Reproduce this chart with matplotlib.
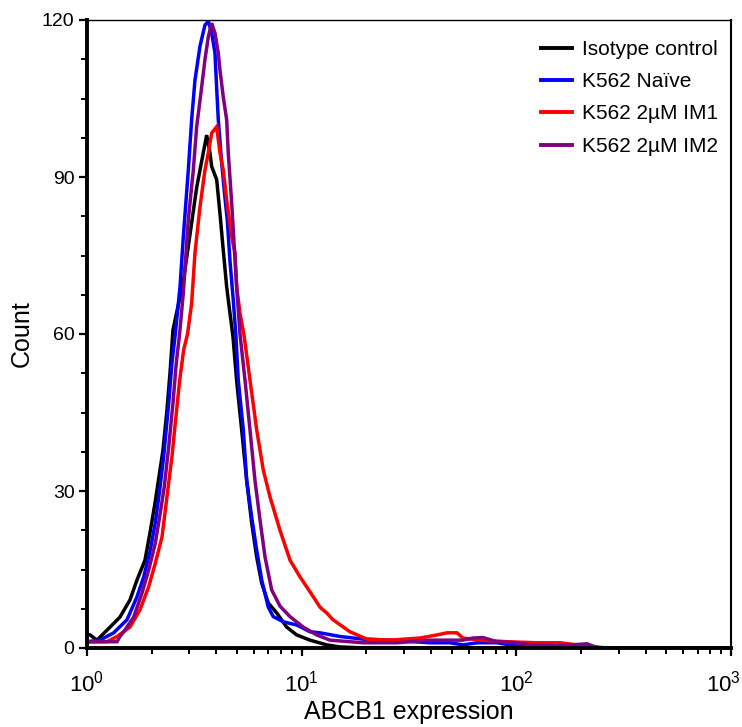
import matplotlib
matplotlib.use("Agg")
import matplotlib.pyplot as plt
import matplotlib.transforms as mtransforms
from matplotlib.ticker import MultipleLocator, LogLocator, NullFormatter

plt.rcParams['font.family'] = ['Liberation Sans', 'DejaVu Sans']
plt.rcParams['mathtext.fontset'] = 'custom'
plt.rcParams['mathtext.rm'] = 'Liberation Sans'
plt.rcParams['mathtext.it'] = 'Liberation Sans:italic'
plt.rcParams['mathtext.bf'] = 'Liberation Sans:bold'

# ---- data ----
iso_x = [1.00, 1.033, 1.113, 1.239, 1.424, 1.586, 1.710, 1.863, 1.965, 2.074, 2.164, 2.259,
         2.358, 2.435, 2.515, 2.809, 3.018, 3.243, 3.421, 3.609, 3.740, 3.809, 4.018, 4.164,
         4.313, 4.474, 4.634, 4.786, 4.980, 5.254, 5.545, 5.850, 6.172, 6.513, 6.989, 7.650,
         8.516, 9.478, 10.93, 13.08, 15.08, 20.0, 1000.0]
iso_y = [2.5, 2.5, 1.5, 3.4, 5.9, 9.2, 13.0, 16.8, 22.0, 27.7, 32.7, 37.8,
         45.5, 52.5, 60.8, 70.0, 79.0, 88.0, 93.0, 98.0, 94.6, 92.0, 89.5, 83.0,
         76.0, 69.0, 64.0, 59.5, 51.0, 41.7, 32.0, 23.9, 17.4, 12.4, 8.6, 6.7,
         4.0, 2.5, 1.5, 0.6, 0.2, 0.0, 0.0]

naive_x = [1.00, 1.150, 1.331, 1.536, 1.710, 1.837, 1.971, 2.080, 2.181, 2.276, 2.402, 2.488,
           2.578, 2.712, 2.809, 2.964, 3.073, 3.184, 3.360, 3.543, 3.673, 3.809, 3.946, 4.018,
           4.088, 4.240, 4.393, 4.503, 4.634, 4.801, 4.943, 5.066, 5.346, 5.545, 5.850, 6.172,
           6.513, 6.989, 7.374, 8.211, 9.478, 10.93, 12.17, 15.08, 19.30, 25.78, 39.60, 49.07,
           56.40, 65.55, 81.21, 103.9, 130.0, 1000.0]
naive_y = [1.2, 1.5, 2.9, 5.4, 9.8, 13.6, 18.7, 23.9, 30.2, 36.6, 46.8, 54.5,
           60.0, 69.0, 78.5, 91.3, 101.0, 108.5, 115.0, 119.0, 119.8, 117.5, 113.7, 107.0,
           101.0, 92.7, 86.0, 81.8, 74.0, 66.5, 59.5, 51.2, 41.7, 32.0, 25.0, 18.7,
           13.0, 7.8, 6.0, 5.0, 4.4, 3.1, 2.9, 2.2, 1.7, 1.5, 1.0, 1.0,
           0.6, 1.0, 1.0, 0.3, 0.0, 0.0]

im1_x = [1.00, 1.239, 1.380, 1.586, 1.765, 1.938, 2.080, 2.235, 2.358, 2.488, 2.578, 2.703,
         2.821, 2.940, 3.073, 3.184, 3.360, 3.543, 3.673, 3.809, 4.018, 4.164, 4.313, 4.474,
         4.721, 4.890, 4.980, 5.160, 5.400, 5.744, 6.172, 6.625, 7.118, 7.925, 8.822, 9.820,
         10.55, 11.32, 12.17, 13.08, 13.99, 16.79, 20.15, 25.78, 35.56, 42.68, 47.52, 52.89,
         56.40, 67.70, 90.41, 124.7, 159.7, 191.6, 227.4, 260.0, 1000.0]
im1_y = [1.2, 1.2, 2.2, 4.0, 7.3, 11.7, 16.2, 21.2, 28.9, 36.6, 43.0, 51.2,
         57.0, 60.0, 65.9, 75.5, 84.3, 91.3, 94.6, 98.4, 99.6, 94.6, 91.3, 85.6,
         78.5, 75.5, 69.0, 64.0, 59.5, 51.2, 41.7, 34.0, 28.9, 22.5, 16.8, 13.6,
         11.7, 9.8, 7.8, 6.7, 5.4, 3.1, 1.7, 1.5, 1.9, 2.5, 2.9, 2.9,
         1.9, 1.5, 1.2, 1.0, 1.0, 0.6, 0.3, 0.0, 0.0]

im2_x = [1.00, 1.380, 1.424, 1.482, 1.650, 1.804, 1.938, 2.080, 2.194, 2.291, 2.402, 2.515,
         2.606, 2.700, 2.809, 2.964, 3.127, 3.243, 3.421, 3.543, 3.673, 3.809, 3.946, 4.088,
         4.164, 4.313, 4.474, 4.551, 4.721, 4.853, 4.980, 5.160, 5.445, 5.744, 6.061, 6.395,
         6.749, 7.250, 7.925, 8.822, 10.17, 11.75, 13.55, 19.30, 27.79, 39.60, 56.40, 62.80,
         69.91, 81.21, 100.6, 115.7, 154.6, 213.3, 240.0, 1000.0]
im2_y = [1.2, 1.2, 2.2, 3.1, 5.9, 10.5, 14.9, 20.0, 25.8, 30.8, 38.4, 46.8,
         54.5, 60.0, 67.8, 81.8, 91.3, 99.6, 107.2, 112.4, 116.8, 119.4, 117.5, 113.7,
         110.4, 105.3, 100.9, 94.6, 85.0, 76.6, 69.0, 60.0, 51.2, 41.7, 32.0, 24.5,
         17.4, 11.1, 8.0, 6.0, 4.0, 2.5, 1.5, 1.0, 1.0, 1.5, 1.5, 1.9,
         2.0, 1.2, 1.0, 0.6, 0.4, 0.8, 0.0, 0.0]

series_labels = ["Isotype control", "K562 Naïve", "K562 2µM IM1", "K562 2µM IM2"]
series_colors = ["#000000", "#0000ff", "#ff0000", "#800080"]

x_ticks = [1, 10, 100, 1000]
x_ticklabels = [r"$\mathregular{10^{0}}$", r"$\mathregular{10^{1}}$",
                r"$\mathregular{10^{2}}$", r"$\mathregular{10^{3}}$"]
y_ticks = [0, 30, 60, 90, 120]

x_label = "ABCB1 expression"
y_label = "Count"

# ---- figure ----
fig = plt.figure(figsize=(7.42, 7.27), dpi=100)
ax = fig.add_axes([87/742, 1 - 648/727, (731 - 87)/742, (648 - 20)/727])

xs = [iso_x, naive_x, im1_x, im2_x]
ys = [iso_y, naive_y, im1_y, im2_y]
for x, y, lab, col in zip(xs, ys, series_labels, series_colors):
    ax.plot(x, y, color=col, lw=2.5, label=lab, solid_joinstyle='miter')

ax.set_xscale('log')
ax.set_xlim(1, 1000)
ax.set_ylim(0, 120)
ax.set_yticks(y_ticks)
ax.yaxis.set_minor_locator(MultipleLocator(7.5))
ax.set_xticks(x_ticks)
ax.set_xticklabels(x_ticklabels)
ax.xaxis.set_minor_locator(LogLocator(base=10, subs=range(2, 10)))
ax.xaxis.set_minor_formatter(NullFormatter())

for s in ['left', 'bottom']:
    ax.spines[s].set_linewidth(2.8)
ax.spines['top'].set_linewidth(1.0)
ax.spines['right'].set_linewidth(1.5)

ax.tick_params(which='major', direction='out', length=6, width=1.6, labelsize=14, pad=3)
ax.tick_params(axis='x', which='major', pad=10, labelsize=16)
ax.tick_params(which='minor', direction='out', length=4, width=1.4)
ax.tick_params(top=False, right=False, which='both')

ax.set_xlabel(x_label, fontsize=18, labelpad=3)
ax.set_ylabel(y_label, fontsize=18, labelpad=6)

# keep the last decade label inside the canvas, as in the reference
last = ax.xaxis.get_major_ticks()[-1].label1
last.set_horizontalalignment('right')
last.set_transform(last.get_transform() +
                   mtransforms.ScaledTranslation(10/100, 0, fig.dpi_scale_trans))

leg = ax.legend(loc='upper right', frameon=False, fontsize=15, handlelength=1.5,
                handletextpad=0.5, labelspacing=0.64, borderaxespad=0.55,
                bbox_to_anchor=(1.011, 1.0))
for h in leg.get_lines():
    h.set_linewidth(2.8)

fig.savefig("out.png", dpi=100)
